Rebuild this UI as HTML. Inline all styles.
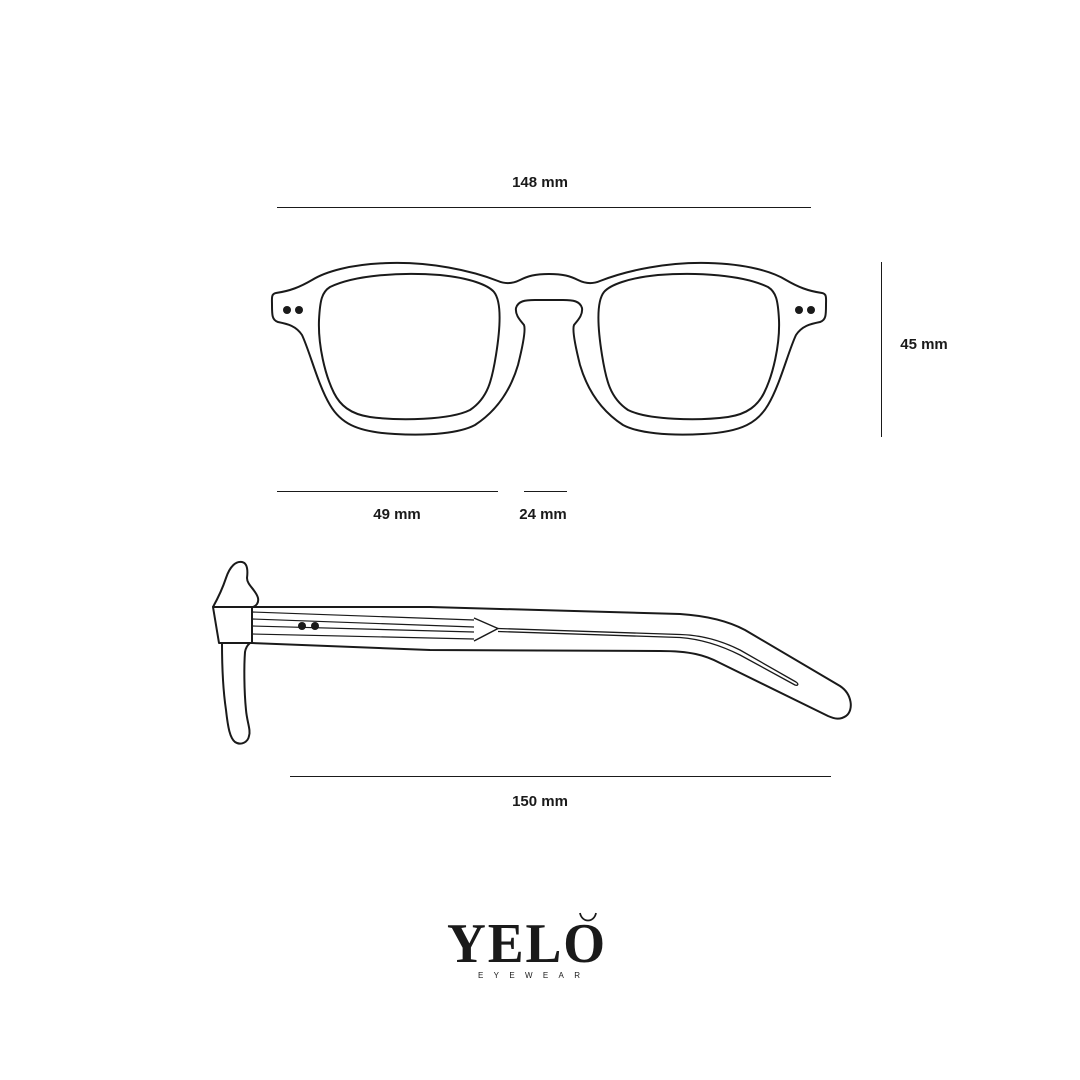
<!DOCTYPE html>
<html><head><meta charset="utf-8"><style>
html,body{margin:0;padding:0;background:#fff;}
svg{display:block}
</style></head><body>
<svg width="1080" height="1080" viewBox="0 0 1080 1080" xmlns="http://www.w3.org/2000/svg">
<rect width="1080" height="1080" fill="#fff"/>
<g font-family="Liberation Sans, sans-serif" font-weight="bold" font-size="15" fill="#1a1a1a" text-anchor="middle">
<text x="540" y="187">148 mm</text>
<text x="924" y="349">45 mm</text>
<text x="397" y="519">49 mm</text>
<text x="543" y="519">24 mm</text>
<text x="540" y="806">150 mm</text>
</g>
<g stroke="#1a1a1a" stroke-width="1">
<line x1="277" y1="207.5" x2="811" y2="207.5"/>
<line x1="881.5" y1="262" x2="881.5" y2="437"/>
<line x1="277" y1="491.5" x2="498" y2="491.5"/>
<line x1="524" y1="491.5" x2="567" y2="491.5"/>
<line x1="290" y1="776.5" x2="831" y2="776.5"/>
</g>
<g id="half" fill="none" stroke="#1a1a1a" stroke-width="2" stroke-linejoin="round">
<path d="M549,274 C535,274 528,276 520,280 C512,284 505,284 498,281 C470,270 430,262 390,263 C350,264 325,272 312,280 C300,287 290,291 276,293 C271,294 272,298 272,305 C272,315 272,320 278,322 C288,324 296,326 302,335 C310,352 318,385 330,405 C340,422 355,432 395,434 C430,436 460,433 475,425 C495,412 510,392 518,365 C523,345 526,330 524,325 C520,320 515,315 516,308 C518,301 525,300 535,300 L549,300"/>
<path d="M330,287 C355,275 400,272 440,275 C470,278 488,285 494,292 C502,302 500,330 496,355 C492,380 488,398 470,410 C450,420 400,421 370,417 C350,414 340,405 334,393 C325,375 318,345 319,320 C320,300 322,292 330,287 Z"/>
<circle cx="287" cy="310" r="4" fill="#1a1a1a" stroke="none"/>
<circle cx="299" cy="310" r="4" fill="#1a1a1a" stroke="none"/>
</g>
<use href="#half" transform="translate(1098,0) scale(-1,1)"/>
<g fill="none" stroke="#1a1a1a" stroke-width="2" stroke-linejoin="round">
<path d="M213,607 L252,607 L252,643 L219,643 Z"/>
<path d="M213,607 C218,598 222,590 226,578 C230,566 236,561 242,562 C247,563 248,570 247,578 C247,585 256,590 258,598 C259,603 256,606 253,607"/>
<path d="M222,643 C222,665 223,690 226,710 C228,728 230,738 235,742 C241,746 248,742 249,736 C251,730 247,722 246,710 C244,690 244,665 245,652 C246,646 249,644 250,643"/>
<path d="M252,607 L430,607 L680,614 C710,616 730,622 745,630 L840,686 C852,694 854,710 846,716 C840,720 835,719 828,716 L720,663 C705,655 690,651 660,651 L430,650 L252,643"/>
<path d="M474,618 L498,628.5 L474,641" stroke-width="1.5"/>
<path d="M498,628.5 L680,634.5 C700,635 720,640 740,650 L796,682 C799,684 798,686 795,685 L740,655 C720,645 700,639 680,637.5 L498,631.5" stroke-width="1.3"/>
</g>
<g stroke="#1a1a1a" stroke-width="1.2">
<line x1="252" y1="612" x2="474" y2="620"/>
<line x1="252" y1="619" x2="474" y2="627"/>
<line x1="252" y1="626" x2="474" y2="632"/>
<line x1="252" y1="634" x2="474" y2="639"/>
</g>
<circle cx="302" cy="626" r="4" fill="#1a1a1a"/>
<circle cx="315" cy="626" r="4" fill="#1a1a1a"/>
<text x="527" y="962" font-family="Liberation Serif, serif" font-size="56" font-weight="bold" letter-spacing="2" fill="#1a1a1a" text-anchor="middle" textLength="160" lengthAdjust="spacingAndGlyphs">YELO</text>
<path d="M580,913 C582,923 594,923 596,913" fill="none" stroke="#1a1a1a" stroke-width="1.8"/>
<text x="529" y="978" font-family="Liberation Sans, sans-serif" font-size="8" fill="#1a1a1a" text-anchor="middle" textLength="102" lengthAdjust="spacing">EYEWEAR</text>
</svg>
</body></html>
